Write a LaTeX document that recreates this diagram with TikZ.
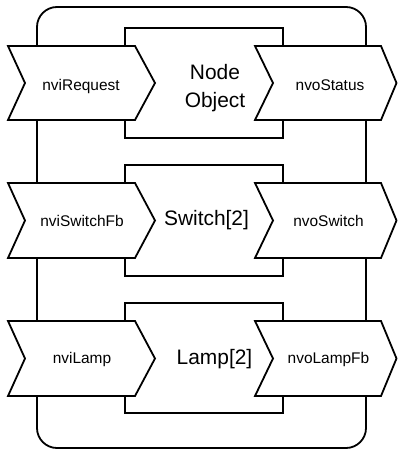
\documentclass[tikz,border=0pt]{standalone}
\usepackage{fontspec}
\setmainfont{Liberation Sans}
\begin{document}
\begin{tikzpicture}[x=1bp,y=-1bp,
  line/.style={draw=black,line width=1.8bp,line join=miter},
  chev/.style={line,fill=white},
  portlabel/.style={anchor=base,inner sep=0pt,font=\fontsize{15.5}{18}\selectfont},
  objlabel/.style={anchor=center,inner sep=0pt,align=center,font=\fontsize{21}{28}\selectfont}]
\fill[white] (0,0) rectangle (397,450);
\useasboundingbox (0,0) rectangle (397,450);
% outer device frame
\draw[line,rounded corners=20bp] (37,7) rectangle (366,448);
% object boxes
\draw[line,fill=white] (125,28) rectangle (283,138);
\draw[line,fill=white] (125,165) rectangle (283,276);
\draw[line,fill=white] (125,303) rectangle (283,413);
% row 1 chevrons
\draw[chev] (8,46) -- (135,46) -- (155,83) -- (135,120) -- (8,120) -- (25,83) -- cycle;
\draw[chev] (255,46) -- (381,46) -- (396.5,83) -- (381,120) -- (255,120) -- (273,83) -- cycle;
% row 2 chevrons
\draw[chev] (8,183) -- (135,183) -- (155,220.5) -- (135,258) -- (8,258) -- (25,220.5) -- cycle;
\draw[chev] (255,183) -- (381,183) -- (396.5,220.5) -- (381,258) -- (255,258) -- (273,220.5) -- cycle;
% row 3 chevrons
\draw[chev] (8,321) -- (135,321) -- (155,358.5) -- (135,396) -- (8,396) -- (25,358.5) -- cycle;
\draw[chev] (255,321) -- (381,321) -- (396.5,358.5) -- (381,396) -- (255,396) -- (273,358.5) -- cycle;
% labels
\node[portlabel] (req) at (81,91) {nviRequest};
\node[portlabel] (stat) at (330,91) {nvoStatus};
\node[portlabel] (swfb) at (82,226) {nviSwitchFb};
\node[portlabel] (sw) at (328.5,226) {nvoSwitch};
\node[portlabel] (lamp) at (82,363) {nviLamp};
\node[portlabel] (lampfb) at (328.5,363) {nvoLampFb};
\node[objlabel] (nodeobj) at (215,88) {Node\\Object};
\node[objlabel] (switch) at (206.5,220.5) {Switch[2]};
\node[objlabel] (lampobj) at (214.5,359) {Lamp[2]};
\end{tikzpicture}
\end{document}
